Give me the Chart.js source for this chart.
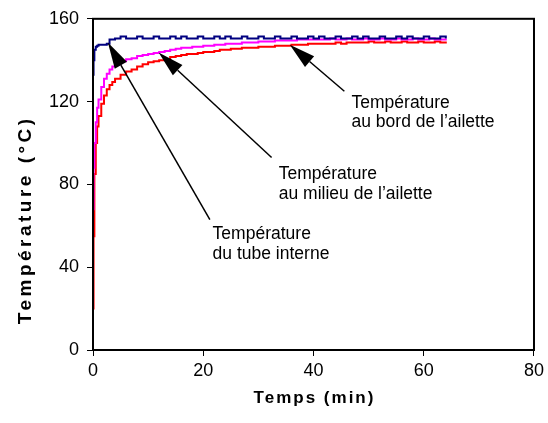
<!DOCTYPE html>
<html>
<head>
<meta charset="utf-8">
<script src="https://cdn.jsdelivr.net/npm/chart.js@4"></script>
<style>
  html, body { margin: 0; padding: 0; background: #fff; }
</style>
</head>
<body>
<canvas id="tempChart" width="548" height="423"></canvas>
<script>
// time in minutes (finer at the start where things move fast)
const times = [0, 0.1, 0.25, 0.5, 0.75, 1, 1.5, 2, 2.5, 3, 3.5,
  4, 5, 6, 7, 8, 9, 10, 11, 12, 13, 14, 15, 16, 17, 18, 19, 20, 21, 22, 23, 24,
  25, 26, 27, 28, 29, 30, 31, 32, 33, 34, 35, 36, 37, 38, 39, 40, 41, 42, 43, 44,
  45, 46, 47, 48, 49, 50, 51, 52, 53, 54, 55, 56, 57, 58, 59, 60, 61, 62, 63, 64];

// tube interne (navy)
const tubeTemp = [133, 140, 145, 146.5, 147, 147.5, 147.5, 147.5, 148, 150, 150,
  150.5, 151.5, 150.5, 150.5, 151.5, 150.5, 150.5, 151.5, 150.5, 150.5, 151.5, 150.5, 151.5, 150.5, 150.5, 151.5, 150.5, 150.5, 151.5, 150.5, 151.5,
  150.5, 150.5, 151.5, 150.5, 150.5, 151.5, 150.5, 150.5, 151.5, 150.5, 150.5, 151.5, 150.5, 150.5, 151.5, 150.5, 151.5, 150.5, 150.5, 151.5,
  150.5, 150.5, 151.5, 150.5, 151.5, 150.5, 150.5, 151.5, 150.5, 150.5, 151.5, 150.5, 151.5, 150.5, 150.5, 151.5, 150.5, 150.5, 151.5, 150.5];

// milieu de l'ailette (magenta)
const milieuTemp = [68, 88, 100, 110, 117, 121, 127, 131, 133.5, 135.5, 137,
  138, 139.5, 140.5, 141, 142, 142.5, 143, 143.5, 144, 144.5, 145, 145.5, 146, 146, 146.5, 146.5, 147, 147, 147.5, 147.5, 148,
  148, 148, 148.5, 148.5, 148.5, 149, 149, 149, 149.5, 149.5, 149.5, 149.5, 150, 150, 150, 150, 150, 150, 150.5, 150,
  150, 150.5, 150, 150, 150.5, 150, 150, 150.5, 150, 150, 150.5, 150, 150, 150.5, 150, 150, 150.5, 150, 150, 150.5];

// bord de l'ailette (red)
const bordTemp = [20, 55, 85, 100, 108, 113, 119, 123, 126, 128, 129.5,
  131, 133, 134.5, 135.5, 137, 138, 139, 139.5, 140, 140.5, 141.5, 142, 142.5, 143, 143, 143.5, 144, 144, 144.5, 145, 145,
  145.5, 145.5, 146, 146, 146, 146.5, 146.5, 146.5, 147, 147, 147, 147.5, 147.5, 147.5, 148, 148, 148, 148, 148, 148.5,
  148, 148.5, 148.5, 148.5, 148.5, 149, 148.5, 148.5, 149, 148.5, 148.5, 149, 148.5, 148.5, 149, 148.5, 148.5, 149, 148.5, 149];

const xTicks = [0, 20, 40, 60, 80];
const yTicks = [0, 40, 80, 120, 160];

// callouts: arrow tail -> tip, text anchor (all in data units)
const notes = [
  { label: ['Température', 'du tube interne'], tip: [2.7, 148.5], tail: [21.2, 63], at: [21.7, 53.5] },
  { label: ['Température', 'au milieu de l\u2019ailette'], tip: [11.9, 143.7], tail: [32.4, 93], at: [33.7, 82.5] },
  { label: ['Température', 'au bord de l\u2019ailette'], tip: [35.7, 147.5], tail: [45.6, 125], at: [46.9, 117] }
];

const FONT = '"Liberation Sans", Arial, sans-serif';

const toXY = ys => ys.map((v, i) => ({ x: times[i], y: v }));

const callouts = {
  id: 'callouts',
  afterDraw(chart) {
    const { ctx, chartArea: a, scales: { x, y } } = chart;
    ctx.save();
    // frame round the plot
    ctx.strokeStyle = '#000';
    ctx.lineWidth = 2;
    ctx.strokeRect(a.left, a.top, a.right - a.left, a.bottom - a.top);

    ctx.fillStyle = '#000';
    ctx.lineWidth = 1.5;
    notes.forEach(n => {
      const tx = x.getPixelForValue(n.tip[0]), ty = y.getPixelForValue(n.tip[1]);
      const sx = x.getPixelForValue(n.tail[0]), sy = y.getPixelForValue(n.tail[1]);
      const ang = Math.atan2(ty - sy, tx - sx);
      const len = 26, half = 7;
      const bx = tx - len * Math.cos(ang), by = ty - len * Math.sin(ang);
      ctx.beginPath();
      ctx.moveTo(sx, sy);
      ctx.lineTo(bx, by);
      ctx.stroke();
      ctx.beginPath();
      ctx.moveTo(tx, ty);
      ctx.lineTo(bx + half * Math.sin(ang), by - half * Math.cos(ang));
      ctx.lineTo(bx - half * Math.sin(ang), by + half * Math.cos(ang));
      ctx.closePath();
      ctx.fill();

      ctx.font = '17.5px ' + FONT;
      ctx.textAlign = 'left';
      ctx.textBaseline = 'alphabetic';
      const lx = x.getPixelForValue(n.at[0]), ly = y.getPixelForValue(n.at[1]);
      n.label.forEach((s, i) => ctx.fillText(s, lx, ly + i * 19.5));
    });

    // axis titles (spaced out like the original)
    ctx.font = 'bold 17px ' + FONT;
    ctx.textAlign = 'center';
    ctx.textBaseline = 'middle';
    ctx.letterSpacing = '2px';
    ctx.fillText('Temps (min)', (a.left + a.right) / 2 + 1, a.bottom + 48);
    ctx.translate(a.left - 67, a.top + 203);
    ctx.rotate(-Math.PI / 2);
    ctx.font = 'bold 19px ' + FONT;
    ctx.letterSpacing = '3.5px';
    ctx.fillText('Température (°C)', 2, 0);
    ctx.restore();
  }
};

const tickStyle = { color: '#000', font: { family: FONT, size: 18 } };

new Chart(document.getElementById('tempChart'), {
  type: 'line',
  data: {
    datasets: [
      { label: 'Tube interne', data: toXY(tubeTemp), borderColor: '#000080' },
      { label: 'Milieu de l\u2019ailette', data: toXY(milieuTemp), borderColor: '#ff00ff' },
      { label: 'Bord de l\u2019ailette', data: toXY(bordTemp), borderColor: '#ff0000' }
    ]
  },
  options: {
    responsive: false,
    animation: false,
    events: [],
    datasets: { line: { stepped: true, borderWidth: 2, pointRadius: 0, fill: false, tension: 0 } },
    layout: { padding: { top: 16, right: 13, left: 0, bottom: 0 } },
    plugins: { legend: { display: false }, tooltip: { enabled: false } },
    scales: {
      x: {
        type: 'linear', min: 0, max: 80,
        afterBuildTicks: s => { s.ticks = xTicks.map(v => ({ value: v })); },
        afterFit: s => { s.height = 73; },
        grid: { drawOnChartArea: false, tickLength: 6, color: '#000' },
        border: { display: false },
        ticks: Object.assign({ padding: 4 }, tickStyle)
      },
      y: {
        min: 0, max: 160,
        afterBuildTicks: s => { s.ticks = yTicks.map(v => ({ value: v })); },
        afterFit: s => { s.width = 93; },
        grid: { drawOnChartArea: false, tickLength: 6, color: '#000' },
        border: { display: false },
        ticks: Object.assign({ padding: 8 }, tickStyle)
      }
    }
  },
  plugins: [callouts]
});
</script>
</body>
</html>
